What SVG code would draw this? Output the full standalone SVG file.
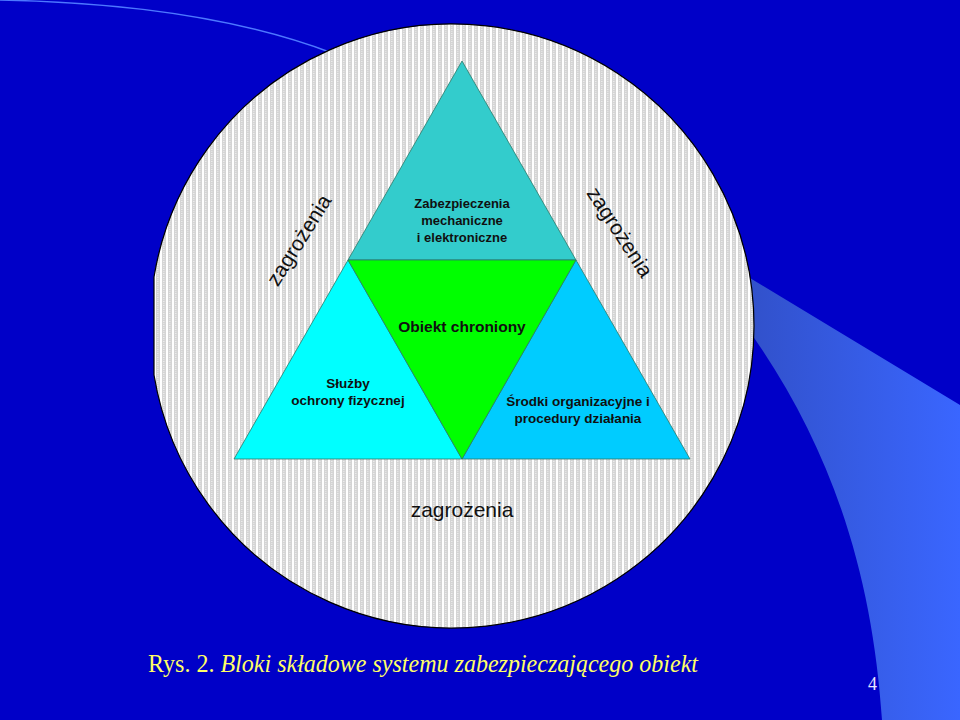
<svg xmlns="http://www.w3.org/2000/svg" width="960" height="720" viewBox="0 0 960 720">
  <defs>
    <pattern id="dots" width="6" height="4" patternUnits="userSpaceOnUse">
      <rect width="6" height="4" fill="#ffffff"/>
      <rect x="0" y="0" width="4" height="4" fill="#d4d4d4"/>
      <rect x="1" y="1" width="1.5" height="1" fill="#ececec"/>
      <rect x="1" y="3" width="1.5" height="1" fill="#e4e4e4"/>
    </pattern>
    <linearGradient id="band" x1="0" y1="0" x2="1" y2="0">
      <stop offset="0" stop-color="#3150c8"/>
      <stop offset="1" stop-color="#3a66ff"/>
    </linearGradient>
    <style>
      .lbl { font-family: "Liberation Sans", Arial, sans-serif; font-weight: bold; fill: #101010; text-anchor: middle; }
      .zag { font-family: "Liberation Sans", Arial, sans-serif; font-size: 21px; fill: #111; text-anchor: middle; }
      .tri { stroke: #2a7a6a; stroke-width: 0.8; }
    </style>
  </defs>

  <rect width="960" height="720" fill="#0000c8"/>
  <path d="M 740,272 L 960,405 L 960,720 L 882,720 C 872,570 830,440 740,318 Z" fill="url(#band)"/>
  <path d="M -5,0 C 120,2 240,18 332,53" fill="none" stroke="#4d78ff" stroke-width="1.5"/>

  <g id="zone">
    <path d="M 154,277 A 302,302 0 1,1 154,375 Z" fill="url(#dots)" stroke="#000" stroke-width="1.2"/>
  </g>

  <g id="top">
    <polygon class="tri" points="462,61 348,260 576,260" fill="#33cccc"/>
    <text class="lbl" font-size="13" x="462" y="208">Zabezpieczenia</text>
    <text class="lbl" font-size="13" x="462" y="225">mechaniczne</text>
    <text class="lbl" font-size="13" x="462" y="242">i elektroniczne</text>
  </g>
  <g id="left">
    <polygon class="tri" points="348,260 234,459 462,459" fill="#00ffff"/>
    <text class="lbl" font-size="13.5" x="348" y="388">Służby</text>
    <text class="lbl" font-size="13.5" x="348" y="405">ochrony fizycznej</text>
  </g>
  <g id="right">
    <polygon class="tri" points="576,260 462,459 690,459" fill="#00ccff"/>
    <text class="lbl" font-size="13.5" x="578" y="406">Środki organizacyjne i</text>
    <text class="lbl" font-size="13.5" x="578" y="423">procedury działania</text>
  </g>
  <g id="center">
    <polygon class="tri" points="348,260 576,260 462,459" fill="#00ff00"/>
    <text class="lbl" font-size="15.5" x="462" y="332">Obiekt chroniony</text>
  </g>

  <g id="threats">
    <text class="zag" transform="translate(305,244) rotate(-58)">zagrożenia</text>
    <text class="zag" transform="translate(614,236) rotate(57)">zagrożenia</text>
    <text class="zag" x="462" y="517">zagrożenia</text>
  </g>

  <g id="caption">
    <text x="148" y="672" font-family="'Liberation Serif', 'Times New Roman', serif" font-size="25" fill="#ffff66" textLength="550" lengthAdjust="spacingAndGlyphs">Rys. 2. <tspan font-style="italic">Bloki składowe systemu zabezpieczającego obiekt</tspan></text>
    <text x="868" y="690" font-family="'Liberation Serif', 'Times New Roman', serif" font-size="18" fill="#e8e8ff">4</text>
  </g>
</svg>
